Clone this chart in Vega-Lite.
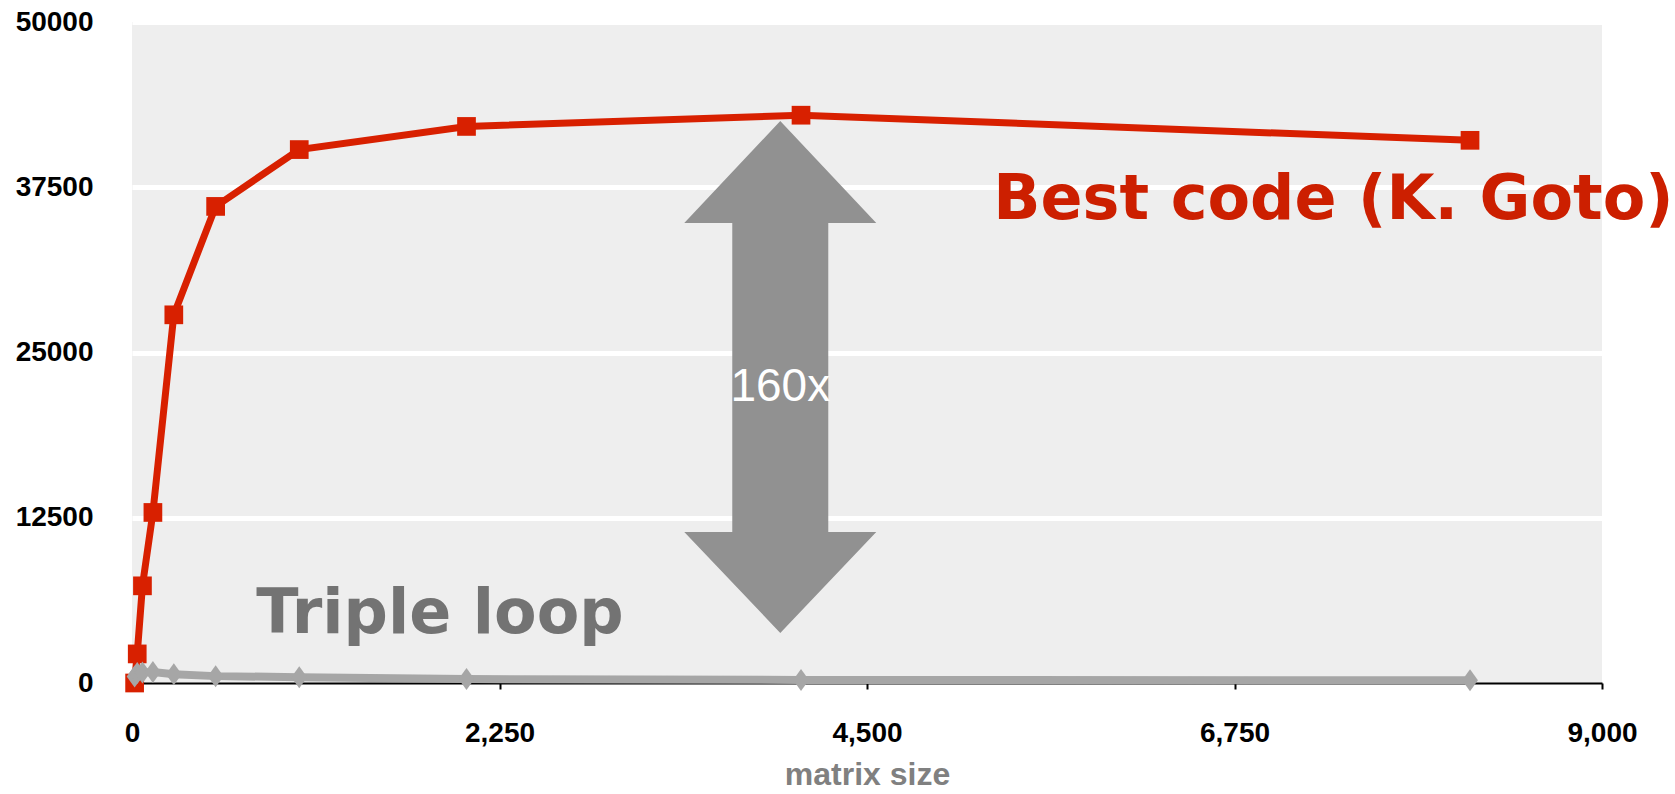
{
  "$schema": "https://vega.github.io/schema/vega-lite/v6.json",
  "autosize": {"type": "none"},
  "width": 1470,
  "height": 661,
  "padding": {"left": 132, "top": 22, "right": 73, "bottom": 111},
  "background": "white",
  "config": {
    "view": {"fill": "#eeeeee", "stroke": null},
    "font": "Liberation Sans"
  },
  "datasets": {
    "series": [
      {"size": 16, "gflops": 0, "code": "Best code (K. Goto)"},
      {"size": 32, "gflops": 2200, "code": "Best code (K. Goto)"},
      {"size": 64, "gflops": 7350, "code": "Best code (K. Goto)"},
      {"size": 128, "gflops": 12900, "code": "Best code (K. Goto)"},
      {"size": 256, "gflops": 27850, "code": "Best code (K. Goto)"},
      {"size": 512, "gflops": 36050, "code": "Best code (K. Goto)"},
      {"size": 1024, "gflops": 40350, "code": "Best code (K. Goto)"},
      {"size": 2048, "gflops": 42100, "code": "Best code (K. Goto)"},
      {"size": 4096, "gflops": 42950, "code": "Best code (K. Goto)"},
      {"size": 8192, "gflops": 41050, "code": "Best code (K. Goto)"},
      {"size": 16, "gflops": 500, "code": "Triple loop"},
      {"size": 32, "gflops": 750, "code": "Triple loop"},
      {"size": 64, "gflops": 800, "code": "Triple loop"},
      {"size": 128, "gflops": 830, "code": "Triple loop"},
      {"size": 256, "gflops": 670, "code": "Triple loop"},
      {"size": 512, "gflops": 520, "code": "Triple loop"},
      {"size": 1024, "gflops": 440, "code": "Triple loop"},
      {"size": 2048, "gflops": 300, "code": "Triple loop"},
      {"size": 4096, "gflops": 230, "code": "Triple loop"},
      {"size": 8192, "gflops": 200, "code": "Triple loop"}
    ]
  },
  "encoding": {
    "x": {
      "field": "size", "type": "quantitative",
      "scale": {"domain": [0, 9000], "nice": false, "zero": true},
      "axis": {
        "values": [0, 2250, 4500, 6750, 9000],
        "format": ",d",
        "grid": false,
        "domainColor": "black", "domainWidth": 2,
        "ticks": true, "tickColor": "black", "tickWidth": 2, "tickSize": 6,
        "labelFont": "Liberation Sans", "labelFontSize": 28, "labelFontWeight": "bold",
        "labelColor": "black", "labelPadding": 30, "labelFlush": false,
        "title": "matrix size",
        "titleFont": "Liberation Sans", "titleFontSize": 32, "titleFontWeight": "bold",
        "titleColor": "#808080", "titleBaseline": "alphabetic", "titleY": 101
      }
    },
    "y": {
      "field": "gflops", "type": "quantitative",
      "scale": {"domain": [0, 50000], "nice": false},
      "axis": {
        "values": [0, 12500, 25000, 37500, 50000],
        "format": "d",
        "domain": false, "ticks": false, "tickSize": 0,
        "grid": true, "gridColor": "white", "gridWidth": 5,
        "gridOpacity": {"condition": {"test": "datum.value === 0", "value": 0}, "value": 1},
        "labelFont": "Liberation Sans", "labelFontSize": 28, "labelFontWeight": "bold",
        "labelColor": "black", "labelPadding": 39, "labelBaseline": "middle", "labelFlush": false,
        "title": null
      }
    }
  },
  "layer": [
    {
      "data": {"values": [{"size": 3969, "gflops": 23146, "shape": "arrow"}]},
      "mark": {
        "type": "point", "filled": true, "opacity": 1, "color": "#919191", "strokeWidth": 0,
        "shape": "M0,-1L0.375,-0.602L0.1875,-0.602L0.1875,0.605L0.375,0.605L0,1L-0.375,0.605L-0.1875,0.605L-0.1875,-0.602L-0.375,-0.602Z",
        "size": 262144
      }
    },
    {
      "data": {"values": [{"size": 3969, "gflops": 21330, "label": "160x"}]},
      "mark": {"type": "text", "align": "center", "baseline": "alphabetic", "font": "Liberation Sans", "fontSize": 46, "color": "white"},
      "encoding": {"text": {"field": "label"}}
    },
    {
      "data": {"name": "series"},
      "transform": [{"filter": "datum.code === 'Best code (K. Goto)'"}],
      "mark": {"type": "line", "color": "#d82000", "strokeWidth": 7},
      "encoding": {"order": {"field": "size"}}
    },
    {
      "data": {"name": "series"},
      "transform": [{"filter": "datum.code === 'Best code (K. Goto)'"}],
      "mark": {"type": "point", "shape": "square", "filled": true, "opacity": 1, "color": "#d82000", "size": 350}
    },
    {
      "data": {"name": "series"},
      "transform": [{"filter": "datum.code === 'Triple loop'"}],
      "mark": {"type": "line", "color": "#a6a6a6", "strokeWidth": 8},
      "encoding": {"order": {"field": "size"}}
    },
    {
      "data": {"name": "series"},
      "transform": [{"filter": "datum.code === 'Triple loop'"}],
      "mark": {"type": "point", "shape": "M0,-1L0.72,0L0,1L-0.72,0Z", "filled": true, "opacity": 1, "color": "#a6a6a6", "size": 484}
    },
    {
      "data": {"values": [
        {"size": 5273, "gflops": 35097, "label": "Best code (K. Goto)", "kind": "best"},
        {"size": 761, "gflops": 3759, "label": "Triple loop", "kind": "triple"}
      ]},
      "mark": {"type": "text", "align": "left", "baseline": "alphabetic", "font": "DejaVu Sans", "fontWeight": "bold", "fontSize": 62},
      "encoding": {
        "text": {"field": "label"},
        "color": {"field": "kind", "type": "nominal", "scale": {"domain": ["best", "triple"], "range": ["#cc1f00", "#737373"]}, "legend": null}
      }
    }
  ]
}
